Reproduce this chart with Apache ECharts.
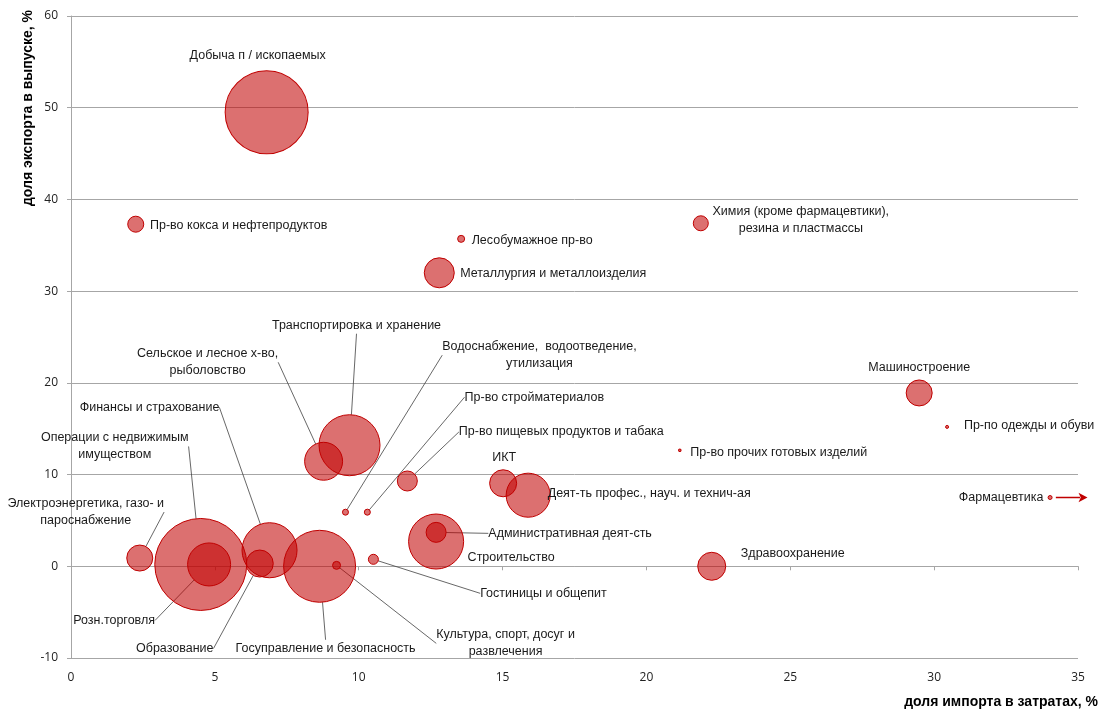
<!DOCTYPE html>
<html><head><meta charset="utf-8">
<script src="https://cdn.jsdelivr.net/npm/echarts@6/dist/echarts.min.js"></script>
<style>html,body{margin:0;padding:0;background:#fff}#c{width:1101px;height:710px}</style>
</head><body><div id="c"></div>
<script>
// ---- data ----
const industries = [
  'Добыча п / ископаемых',
  'Пр-во кокса и нефтепродуктов',
  'Лесобумажное пр-во',
  'Химия (кроме фармацевтики),\nрезина и пластмассы',
  'Металлургия и металлоизделия',
  'Машиностроение',
  'Пр-по одежды и обуви',
  'Пр-во прочих готовых изделий',
  'Фармацевтика',
  'Транспортировка и хранение',
  'Сельское и лесное х-во,\nрыболовство',
  'Водоснабжение,  водоотведение,\nутилизация',
  'Пр-во стройматериалов',
  'Пр-во пищевых продуктов и табака',
  'ИКТ',
  'Деят-ть профес., науч. и технич-ая',
  'Административная деят-сть',
  'Строительство',
  'Гостиницы и общепит',
  'Культура, спорт, досуг и\nразвлечения',
  'Госуправление и безопасность',
  'Образование',
  'Финансы и страхование',
  'Розн.торговля',
  'Операции с недвижимым\nимуществом',
  'Электроэнергетика, газо- и\nпароснабжение',
  'Здравоохранение'
];
// доля импорта в затратах, %
const importShare = [6.80, 2.25, 13.56, 21.89, 12.80, 29.48, 30.45, 21.16, 34.03, 9.68, 8.78, 9.54, 10.30, 11.69, 15.02, 15.89, 12.69, 12.69, 10.51, 9.23, 8.64, 6.56, 6.90, 4.80, 4.51, 2.39, 22.27];
// доля экспорта в выпуске, %
const exportShare = [49.5, 37.3, 35.7, 37.4, 32.0, 18.9, 15.2, 12.65, 7.5, 13.2, 11.45, 5.9, 5.9, 9.3, 9.05, 7.75, 3.7, 2.7, 0.76, 0.1, 0.0, 0.3, 1.75, 0.2, 0.2, 0.9, 0.0];
// bubble weight (relative size of industry)
const bubbleWeight = [68.9, 2.56, 0.49, 2.25, 9.0, 6.76, 0.09, 0.06, 0.16, 37.2, 14.4, 0.36, 0.36, 4.0, 7.3, 19.4, 4.0, 30.3, 1.0, 0.64, 51.8, 7.3, 30.3, 18.5, 84.6, 6.76, 7.84];
const xTicks = {min: 0, max: 35, step: 5};
const yTicks = {min: -10, max: 60, step: 10};

// ---- label layout (pixel offsets of label centre from bubble centre, leader line flag) ----
const labelLayoutCfg = [
  [-9, -57, false], [103, 1, false], [71, 2, false], [100, -3, false], [114, 1, false],
  [0, -25, false], [82, -1, false], [99, 2, false], [-49, 0, false],
  [7, -120, true], [-116, -99, true], [194, -157, true], [167, -115, true], [154, -49, true],
  [1, -26, false], [121, -2, false], [134, 1, true], [75, 16, false], [170, 34, true],
  [169, 78, true], [6, 82, true], [-85, 85, true], [-120, -143, true], [-95, 56, true],
  [-86, -118, true], [-54, -46, true], [81, -13, false]
];

const seriesData = industries.map((n, i) => ({
  name: n,
  value: [importShare[i], exportShare[i], bubbleWeight[i]],
  labelLine: {show: labelLayoutCfg[i][2]}
}));
const pharmaIdx = industries.indexOf('Фармацевтика');
// arrow annotation next to the pharma point (offsets in axis units from that point)
const arrowData = [
  {value: [importShare[pharmaIdx] + 0.2, exportShare[pharmaIdx]], symbol: 'none'},
  {value: [importShare[pharmaIdx] + 1.3, exportShare[pharmaIdx]], symbol: 'arrow'}
];

const chart = echarts.init(document.getElementById('c'), null, {renderer: 'canvas'});
const gridColor = '#a6a6a6';
chart.setOption({
  animation: false,
  backgroundColor: '#fff',
  grid: {left: 71, right: 21, top: 16, bottom: 52, containLabel: false},
  xAxis: [{
    type: 'value', min: xTicks.min, max: xTicks.max, interval: xTicks.step,
    axisLine: {show: false, onZero: false}, axisTick: {show: false},
    splitLine: {show: false},
    axisLabel: {margin: 14, fontFamily: 'Open Sans', fontSize: 12, color: '#222'},
    name: 'доля импорта в затратах, %', nameLocation: 'end', nameGap: 20,
    nameTextStyle: {fontFamily: 'Liberation Sans', fontWeight: 'bold', fontSize: 14, color: '#000',
      align: 'right', verticalAlign: 'top', padding: [37, 0, 0, 0]}
  }, {
    type: 'value', min: xTicks.min, max: xTicks.max, interval: xTicks.step, position: 'bottom',
    axisLine: {show: true, onZero: true, lineStyle: {color: gridColor, width: 1}},
    axisTick: {show: true, length: 4, lineStyle: {color: gridColor}},
    axisLabel: {show: false}, splitLine: {show: false}
  }],
  yAxis: {
    type: 'value', min: yTicks.min, max: yTicks.max, interval: yTicks.step,
    axisLine: {show: true, lineStyle: {color: gridColor, width: 1}},
    axisTick: {show: true, length: 4, lineStyle: {color: gridColor}},
    splitLine: {show: true, lineStyle: {color: gridColor, width: 1}},
    axisLabel: {margin: 13, fontFamily: 'Open Sans', fontSize: 12, color: '#222'},
    name: 'доля экспорта в выпуске, %', nameLocation: 'end', nameRotate: 90, nameGap: 6,
    nameTextStyle: {fontFamily: 'Liberation Sans', fontWeight: 'bold', fontSize: 14, color: '#000',
      align: 'right', verticalAlign: 'bottom', padding: [0, 0, 36, 0]}
  },
  series: [{
    type: 'scatter',
    xAxisIndex: 0,
    clip: false,
    silent: true,
    data: seriesData,
    symbol: 'circle',
    symbolSize: v => 10 * Math.sqrt(v[2]),
    itemStyle: {color: 'rgba(192,0,0,0.56)', borderColor: '#c00000', borderWidth: 1, opacity: 1},
    emphasis: {disabled: true},
    label: {
      show: true, position: 'inside', formatter: '{b}',
      color: '#1a1a1a', fontFamily: 'Liberation Sans', fontSize: 12.5, lineHeight: 17,
      align: 'center', textBorderWidth: 0
    },
    labelLine: {show: false, lineStyle: {color: '#404040', width: 0.8}},
    labelLayout: p => ({dx: labelLayoutCfg[p.dataIndex][0], dy: labelLayoutCfg[p.dataIndex][1]})
  }, {
    type: 'line',
    xAxisIndex: 0,
    clip: false,
    silent: true,
    data: arrowData,
    showSymbol: true,
    symbolSize: [7, 9],
    symbolRotate: -90,
    lineStyle: {color: '#c00000', width: 1.5},
    itemStyle: {color: '#c00000', borderWidth: 0},
    label: {show: false},
    emphasis: {disabled: true},
    z: 3
  }]
});
</script></body></html>
